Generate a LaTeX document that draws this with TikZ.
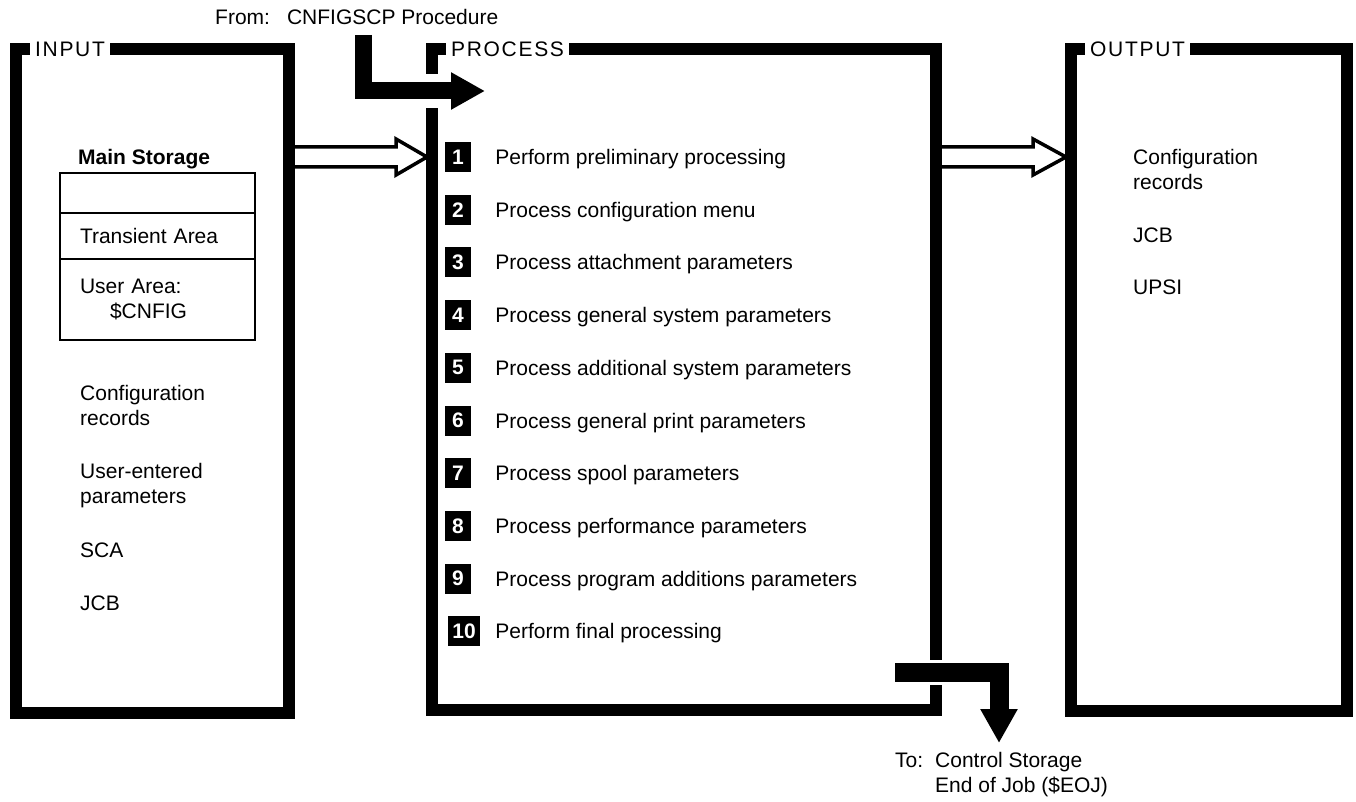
\documentclass[tikz,border=0pt]{standalone}
\usepackage{fontspec}
\setmainfont{Liberation Sans}
\usetikzlibrary{arrows.meta, positioning, calc}
\newcommand{\diagfont}{\fontsize{21}{25}\selectfont}
\tikzset{frame/.style={draw, line width=12pt, outer sep=0pt, inner sep=0pt, anchor=north west}}
\tikzset{boxtitle/.style={fill=white, inner xsep=5pt, inner ysep=3pt, anchor=base west, font=\diagfont\addfontfeature{LetterSpace=8}}}
\tikzset{memslot/.style={draw, line width=2.5pt, outer sep=0pt, minimum width=195pt, text width=155pt, inner xsep=20pt, align=left}}
\tikzset{numbox/.style={fill=black, text=white, font=\diagfont\bfseries, minimum width=26pt, minimum height=30pt, inner sep=0pt}}
\tikzset{steptext/.style={inner sep=0pt, text height=16pt, text depth=1pt}}
\tikzset{data/.style={inner sep=0pt, align=left, anchor=west}}
\tikzset{hollow/.style={line width=3.5pt, line join=miter}}
\tikzset{fatarrow/.style={-{Triangle[length=34pt, width=35pt]}}}

\begin{document}
\begin{tikzpicture}[x=1pt, y=-1pt, font=\diagfont]
\useasboundingbox (0,0) rectangle (1356,802);

% the three frames
\node[frame, minimum width=273pt, minimum height=664pt] (input) at (16,49) {};
\node[frame, minimum width=504pt, minimum height=661pt] (process) at (432,49) {};
\node[frame, minimum width=276pt, minimum height=662pt] (output) at (1071,49) {};
\node[boxtitle] (inputlabel) at ($(input.north west)+(14,7.5)$) {INPUT};
\node[boxtitle] (processlabel) at ($(process.north west)+(14,7.5)$) {PROCESS};
\node[boxtitle] (outputlabel) at ($(output.north west)+(14,7.5)$) {OUTPUT};

% input side
\node[memslot, minimum height=40pt, anchor=north west] (mem1) at (60,173) {};
\node[memslot, minimum height=46pt, below=0pt of mem1] (mem2) {Transient Area};
\node[memslot, minimum height=81pt, below=0pt of mem2] (mem3) {User Area:\\\hspace*{30pt}\$CNFIG};
\node[data, font=\diagfont\bfseries, above right=4pt and 18pt of mem1.north west, anchor=south west] (mainstor) {Main Storage};
\node[data] (cfgin) at (80,405.5) {Configuration\\records};
\node[data] (userparm) at (80,485.5) {User-entered\\parameters};
\node[data] (sca) at (80,550) {SCA};
\node[data] (jcbin) at (80,603) {JCB};

% process steps
\node[numbox] (n1) at (458,157) {1};
\node[numbox, below=22.3pt of n1] (n2) {2};
\node[numbox, below=22.3pt of n2] (n3) {3};
\node[numbox, below=22.3pt of n3] (n4) {4};
\node[numbox, below=22.3pt of n4] (n5) {5};
\node[numbox, below=22.3pt of n5] (n6) {6};
\node[numbox, below=22.3pt of n6] (n7) {7};
\node[numbox, below=22.3pt of n7] (n8) {8};
\node[numbox, below=22.3pt of n8] (n9) {9};
\node[numbox, below=22.3pt of n9, minimum width=32pt, xshift=6pt] (n10) {10};
\node[steptext, right=24pt of n1] (s1) {Perform preliminary processing};
\node[steptext, right=24pt of n2] (s2) {Process configuration menu};
\node[steptext, right=24pt of n3] (s3) {Process attachment parameters};
\node[steptext, right=24pt of n4] (s4) {Process general system parameters};
\node[steptext, right=24pt of n5] (s5) {Process additional system parameters};
\node[steptext, right=24pt of n6] (s6) {Process general print parameters};
\node[steptext, right=24pt of n7] (s7) {Process spool parameters};
\node[steptext, right=24pt of n8] (s8) {Process performance parameters};
\node[steptext, right=24pt of n9] (s9) {Process program additions parameters};
\node[steptext, right=15pt of n10] (s10) {Perform final processing};

% output side
\node[data] (cfgout) at (1133,169.5) {Configuration\\records};
\node[data] (jcbout) at (1133,235) {JCB};
\node[data] (upsi) at (1133,287) {UPSI};

% entry and exit
\node[data, anchor=base west] (fromlbl) at (215,25) {From:\hspace*{17pt}CNFIGSCP Procedure};
\node[data, anchor=north west] (tolbl) at (895,752) {\makebox[40pt][l]{To:}Control Storage\\\hspace*{40pt}End of Job (\$EOJ)};
\coordinate (cfgtop) at (363.5,35);
\coordinate (procin) at (485,91);
\coordinate (procout) at (895,672);
\coordinate (eojtip) at (999,743);

\draw[fatarrow, line width=17pt, preaction={draw=white, line width=34pt, arrows=-}] (cfgtop) |- (procin);
\draw[fatarrow, line width=19pt, preaction={draw=white, line width=25pt, arrows=-}] (procout) -| (eojtip);

% hollow data-flow arrows
\draw[hollow] ($(input.east |- n1)+(6,-10)$) -- ($(process.west |- n1)+(-36,-10)$) -- ($(process.west |- n1)+(-36,-18)$)
  -- ($(process.west |- n1)+(-5,0)$) -- ($(process.west |- n1)+(-36,18)$) -- ($(process.west |- n1)+(-36,10)$) -- ($(input.east |- n1)+(6,10)$);
\draw[hollow] ($(process.east |- n1)+(6,-10)$) -- ($(output.west |- n1)+(-38,-10)$) -- ($(output.west |- n1)+(-38,-18)$)
  -- ($(output.west |- n1)+(-5,0)$) -- ($(output.west |- n1)+(-38,18)$) -- ($(output.west |- n1)+(-38,10)$) -- ($(process.east |- n1)+(6,10)$);
\end{tikzpicture}
\end{document}
